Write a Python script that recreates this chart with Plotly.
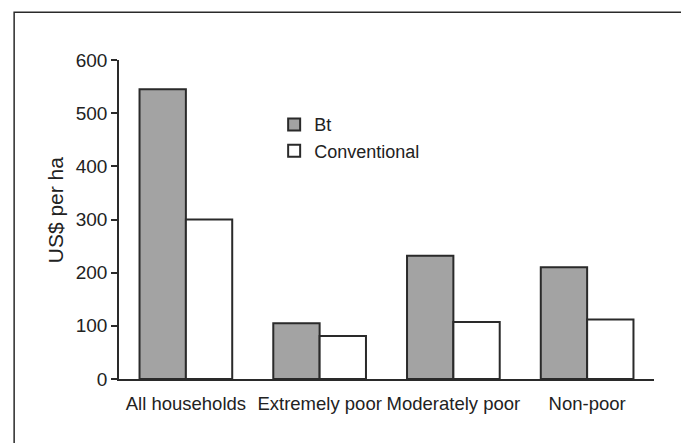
import plotly.graph_objects as go

categories = ["All households", "Extremely poor", "Moderately poor", "Non-poor"]
bt_values = [545, 105, 232, 210]
conv_values = [300, 81, 107, 112]
y_ticks = [0, 100, 200, 300, 400, 500, 600]

FONT = "Liberation Sans, Arial, sans-serif"
EDGE = "#2a2a2a"

fig = go.Figure()
fig.add_trace(go.Bar(x=categories, y=bt_values, name="Bt",
                     marker=dict(color="#a3a3a3", line=dict(color=EDGE, width=2))))
fig.add_trace(go.Bar(x=categories, y=conv_values, name="Conventional",
                     marker=dict(color="white", line=dict(color=EDGE, width=2))))

fig.update_layout(
    width=689, height=443,
    margin=dict(l=111, r=43, t=52, b=72),
    paper_bgcolor="white", plot_bgcolor="white",
    barmode="group", bargap=0.307, bargroupgap=0,
    font=dict(family=FONT, size=18, color="#222222"),
    showlegend=True,
    legend=dict(x=0.29, y=0.855, xanchor="left", yanchor="top",
                bgcolor="rgba(0,0,0,0)", font=dict(size=18),
                traceorder="normal"),
    xaxis=dict(showline=True, linecolor=EDGE, linewidth=1.5, ticks="",
               showgrid=False, range=[-0.5, 3.5], tickfont=dict(size=18.5),
               ticklabelstandoff=7),
    yaxis=dict(showline=True, linecolor=EDGE, linewidth=1.5, ticks="outside",
               ticklen=6, tickcolor=EDGE, tickwidth=1.5, showgrid=False,
               range=[0, 600], tickvals=y_ticks, tickfont=dict(size=19),
               zeroline=False),
    annotations=[dict(text="US$ per ha", xref="paper", yref="paper",
                      x=-0.1196, y=0.529, xanchor="center", yanchor="middle",
                      textangle=-90, showarrow=False, font=dict(size=21))],
    shapes=[dict(type="rect", xref="paper", yref="paper",
                 x0=-0.196, x1=1.0593, y0=-0.4, y1=1.1497,
                 line=dict(color=EDGE, width=1.5), fillcolor="rgba(0,0,0,0)")],
)

fig.write_html("out.html")
